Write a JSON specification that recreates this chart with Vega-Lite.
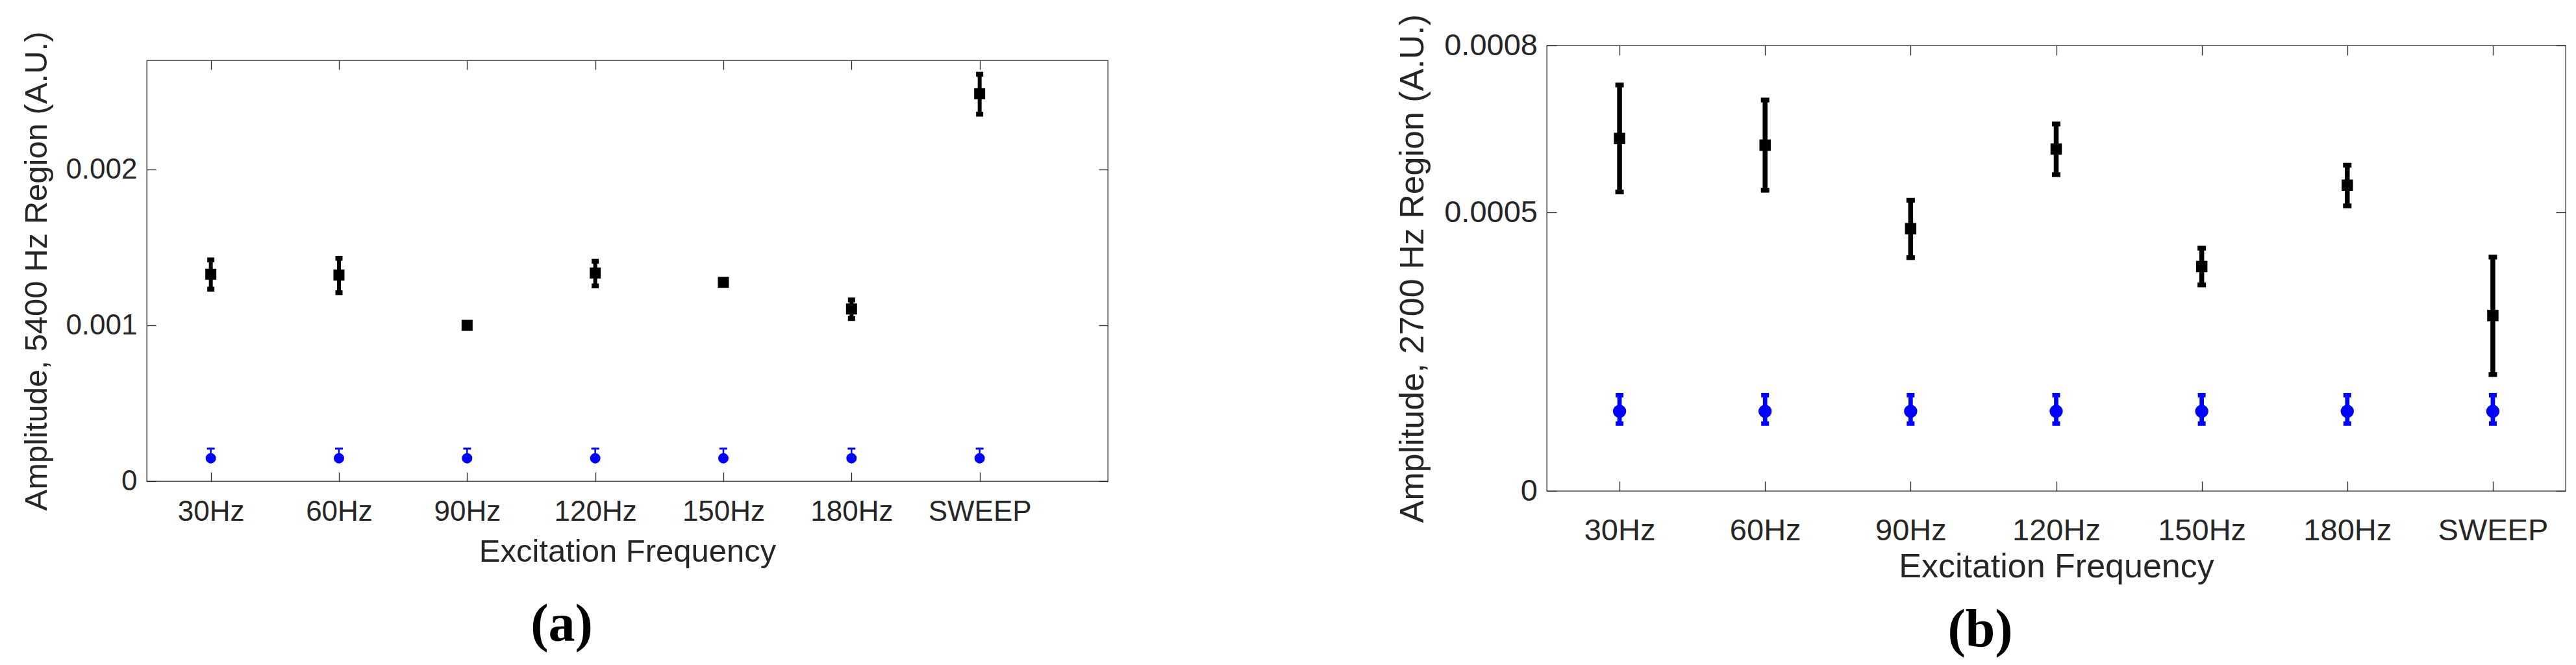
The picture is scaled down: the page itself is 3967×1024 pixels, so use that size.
{
  "$schema": "https://vega.github.io/schema/vega-lite/v6.json",
  "background": "white",
  "padding": {"left": 32, "top": 20, "right": 5, "bottom": 5},
  "spacing": 441,
  "datasets": {
    "left": [
      {"freq": "30Hz", "series": "Sample", "mean": 0.001328, "lo": 0.001232, "hi": 0.00142},
      {"freq": "60Hz", "series": "Sample", "mean": 0.001323, "lo": 0.00121, "hi": 0.00143},
      {"freq": "90Hz", "series": "Sample", "mean": 0.001, "lo": 0.00099, "hi": 0.00101},
      {"freq": "120Hz", "series": "Sample", "mean": 0.001336, "lo": 0.001253, "hi": 0.001411},
      {"freq": "150Hz", "series": "Sample", "mean": 0.001276, "lo": 0.00127, "hi": 0.001282},
      {"freq": "180Hz", "series": "Sample", "mean": 0.001105, "lo": 0.001044, "hi": 0.001163},
      {"freq": "SWEEP", "series": "Sample", "mean": 0.002486, "lo": 0.002355, "hi": 0.002611},
      {"freq": "30Hz", "series": "Reference", "mean": 0.000147, "lo": 0.000135, "hi": 0.000209},
      {"freq": "60Hz", "series": "Reference", "mean": 0.000147, "lo": 0.000135, "hi": 0.000209},
      {"freq": "90Hz", "series": "Reference", "mean": 0.000147, "lo": 0.000135, "hi": 0.000209},
      {"freq": "120Hz", "series": "Reference", "mean": 0.000147, "lo": 0.000135, "hi": 0.000209},
      {"freq": "150Hz", "series": "Reference", "mean": 0.000147, "lo": 0.000135, "hi": 0.000209},
      {"freq": "180Hz", "series": "Reference", "mean": 0.000147, "lo": 0.000135, "hi": 0.000209},
      {"freq": "SWEEP", "series": "Reference", "mean": 0.000147, "lo": 0.000135, "hi": 0.000209}
    ],
    "right": [
      {"freq": "30Hz", "series": "Sample", "mean": 0.000633, "lo": 0.000537, "hi": 0.000729},
      {"freq": "60Hz", "series": "Sample", "mean": 0.000621, "lo": 0.00054, "hi": 0.000702},
      {"freq": "90Hz", "series": "Sample", "mean": 0.000471, "lo": 0.000419, "hi": 0.000522},
      {"freq": "120Hz", "series": "Sample", "mean": 0.000614, "lo": 0.000568, "hi": 0.000659},
      {"freq": "150Hz", "series": "Sample", "mean": 0.000403, "lo": 0.00037, "hi": 0.000436},
      {"freq": "180Hz", "series": "Sample", "mean": 0.000549, "lo": 0.000512, "hi": 0.000585},
      {"freq": "SWEEP", "series": "Sample", "mean": 0.000315, "lo": 0.000209, "hi": 0.00042},
      {"freq": "30Hz", "series": "Reference", "mean": 0.000143, "lo": 0.000121, "hi": 0.000172},
      {"freq": "60Hz", "series": "Reference", "mean": 0.000143, "lo": 0.000121, "hi": 0.000172},
      {"freq": "90Hz", "series": "Reference", "mean": 0.000143, "lo": 0.000121, "hi": 0.000172},
      {"freq": "120Hz", "series": "Reference", "mean": 0.000143, "lo": 0.000121, "hi": 0.000172},
      {"freq": "150Hz", "series": "Reference", "mean": 0.000143, "lo": 0.000121, "hi": 0.000172},
      {"freq": "180Hz", "series": "Reference", "mean": 0.000143, "lo": 0.000121, "hi": 0.000172},
      {"freq": "SWEEP", "series": "Reference", "mean": 0.000143, "lo": 0.000121, "hi": 0.000172}
    ]
  },
  "hconcat": [
    {"bounds": "flush", "spacing": 22, "vconcat": [
    {
      "width": 1480,
      "height": 1,
      "data": {"values": [{"spacer": 1}]},
      "mark": {"type": "point", "opacity": 0},
      "view": {"stroke": null}
    },
    {
      "width": 1480,
      "height": 648,
      "data": {"name": "left"},
      "title": {"text": "(a)", "orient": "bottom", "anchor": "middle", "frame": "group", "dx": -101, "offset": 48, "font": "Liberation Serif", "fontSize": 82, "fontWeight": "bold", "color": "#000000"},
      "encoding": {
        "x": {"field": "freq", "type": "ordinal", "sort": null, "axis": null,
              "scale": {"type": "point", "domain": ["30Hz", "60Hz", "90Hz", "120Hz", "150Hz", "180Hz", "SWEEP"], "padding": 0.75, "align": 0.3333}}
      },
      "layer": [
        {
          "transform": [{"filter": "datum.series === 'Sample'"}],
          "mark": {"type": "rule", "color": "#000000", "strokeWidth": 6},
          "encoding": {
            "x": {"field": "freq", "type": "ordinal", "sort": null,
                  "scale": {"type": "point", "domain": ["30Hz", "60Hz", "90Hz", "120Hz", "150Hz", "180Hz", "SWEEP"], "padding": 0.75, "align": 0.3333},
                  "axis": {"orient": "bottom", "title": "Excitation Frequency", "labelFontSize": 44, "titleFontSize": 49, "labelPadding": 39, "titlePadding": 15, "tickSize": -14, "labelAngle": 0}},
            "y": {"field": "lo", "type": "quantitative", "scale": {"domain": [0, 0.0027], "nice": false, "zero": true},
                  "axis": {"orient": "left", "title": "Amplitude, 5400 Hz Region (A.U.)", "values": [0, 0.001, 0.002], "format": ".3~f", "labelFontSize": 44, "titleFontSize": 49, "labelPadding": 29, "titlePadding": 19, "tickSize": -14}},
            "y2": {"field": "hi"}
          }
        },
        {
          "transform": [{"filter": "datum.series === 'Sample'"}],
          "mark": {"type": "tick", "color": "#000000", "size": 11, "thickness": 7.5, "opacity": 1},
          "encoding": {
            "x": {"field": "freq", "type": "ordinal", "sort": null,
                  "scale": {"type": "point", "domain": ["30Hz", "60Hz", "90Hz", "120Hz", "150Hz", "180Hz", "SWEEP"], "padding": 0.75, "align": 0.3333},
                  "axis": {"orient": "top", "labels": false, "tickSize": -14, "title": null}},
            "y": {"field": "lo", "type": "quantitative", "scale": {"domain": [0, 0.0027], "nice": false, "zero": true},
                  "axis": {"orient": "right", "labels": false, "title": null, "values": [0, 0.001, 0.002], "tickSize": -14}}
          }
        },
        {
          "transform": [{"filter": "datum.series === 'Sample'"}],
          "mark": {"type": "tick", "color": "#000000", "size": 11, "thickness": 7.5, "opacity": 1},
          "encoding": {
            "y": {"field": "hi", "type": "quantitative", "axis": null}
          }
        },
        {
          "transform": [{"filter": "datum.series === 'Sample'"}],
          "mark": {"type": "point", "shape": "square", "filled": true, "size": 289, "color": "#000000", "opacity": 1},
          "encoding": {
            "y": {"field": "mean", "type": "quantitative", "axis": null}
          }
        },
        {
          "transform": [{"filter": "datum.series === 'Reference'"}],
          "mark": {"type": "rule", "color": "#0000FF", "strokeWidth": 2.5},
          "encoding": {
            "y": {"field": "lo", "type": "quantitative", "axis": null},
            "y2": {"field": "hi"}
          }
        },
        {
          "transform": [{"filter": "datum.series === 'Reference'"}],
          "mark": {"type": "tick", "color": "#0000FF", "size": 12, "thickness": 3, "opacity": 1},
          "encoding": {
            "y": {"field": "hi", "type": "quantitative", "axis": null}
          }
        },
        {
          "transform": [{"filter": "datum.series === 'Reference'"}],
          "mark": {"type": "point", "shape": "circle", "filled": true, "size": 254, "color": "#0000FF", "opacity": 1},
          "encoding": {
            "y": {"field": "mean", "type": "quantitative", "axis": null}
          }
        }
      ],
      "resolve": {"axis": {"x": "independent", "y": "independent"}}
    }
    ]},
    {
      "width": 1569,
      "height": 686,
      "data": {"name": "right"},
      "title": {"text": "(b)", "orient": "bottom", "anchor": "middle", "frame": "group", "dx": -117, "offset": 32, "font": "Liberation Serif", "fontSize": 82, "fontWeight": "bold", "color": "#000000"},
      "encoding": {
        "x": {"field": "freq", "type": "ordinal", "sort": null, "axis": null,
              "scale": {"type": "point", "domain": ["30Hz", "60Hz", "90Hz", "120Hz", "150Hz", "180Hz", "SWEEP"], "padding": 0.5, "align": 0.5}}
      },
      "layer": [
        {
          "transform": [{"filter": "datum.series === 'Sample'"}],
          "mark": {"type": "rule", "color": "#000000", "strokeWidth": 7.5},
          "encoding": {
            "x": {"field": "freq", "type": "ordinal", "sort": null,
                  "scale": {"type": "point", "domain": ["30Hz", "60Hz", "90Hz", "120Hz", "150Hz", "180Hz", "SWEEP"], "padding": 0.5, "align": 0.5},
                  "axis": {"orient": "bottom", "title": "Excitation Frequency", "labelFontSize": 47, "titleFontSize": 52, "labelPadding": 53, "titlePadding": 7, "tickSize": -15, "labelAngle": 0}},
            "y": {"field": "lo", "type": "quantitative", "scale": {"domain": [0, 0.0008], "nice": false, "zero": true},
                  "axis": {"orient": "left", "title": "Amplitude, 2700 Hz Region (A.U.)", "values": [0, 0.0005, 0.0008], "format": ".4~f", "labelFontSize": 47, "titleFontSize": 52, "labelPadding": 29.5, "titlePadding": 21, "tickSize": -15}},
            "y2": {"field": "hi"}
          }
        },
        {
          "transform": [{"filter": "datum.series === 'Sample'"}],
          "mark": {"type": "tick", "color": "#000000", "size": 13, "thickness": 7.3, "opacity": 1},
          "encoding": {
            "x": {"field": "freq", "type": "ordinal", "sort": null,
                  "scale": {"type": "point", "domain": ["30Hz", "60Hz", "90Hz", "120Hz", "150Hz", "180Hz", "SWEEP"], "padding": 0.5, "align": 0.5},
                  "axis": {"orient": "top", "labels": false, "tickSize": -15, "title": null}},
            "y": {"field": "lo", "type": "quantitative", "scale": {"domain": [0, 0.0008], "nice": false, "zero": true},
                  "axis": {"orient": "right", "labels": false, "title": null, "values": [0, 0.0005, 0.0008], "tickSize": -15}}
          }
        },
        {
          "transform": [{"filter": "datum.series === 'Sample'"}],
          "mark": {"type": "tick", "color": "#000000", "size": 13, "thickness": 7.3, "opacity": 1},
          "encoding": {
            "y": {"field": "hi", "type": "quantitative", "axis": null}
          }
        },
        {
          "transform": [{"filter": "datum.series === 'Sample'"}],
          "mark": {"type": "point", "shape": "square", "filled": true, "size": 306, "color": "#000000", "opacity": 1},
          "encoding": {
            "y": {"field": "mean", "type": "quantitative", "axis": null}
          }
        },
        {
          "transform": [{"filter": "datum.series === 'Reference'"}],
          "mark": {"type": "rule", "color": "#0000FF", "strokeWidth": 6.7},
          "encoding": {
            "y": {"field": "lo", "type": "quantitative", "axis": null},
            "y2": {"field": "hi"}
          }
        },
        {
          "transform": [{"filter": "datum.series === 'Reference'"}],
          "mark": {"type": "tick", "color": "#0000FF", "size": 12, "thickness": 7, "opacity": 1},
          "encoding": {
            "y": {"field": "lo", "type": "quantitative", "axis": null}
          }
        },
        {
          "transform": [{"filter": "datum.series === 'Reference'"}],
          "mark": {"type": "tick", "color": "#0000FF", "size": 12, "thickness": 7, "opacity": 1},
          "encoding": {
            "y": {"field": "hi", "type": "quantitative", "axis": null}
          }
        },
        {
          "transform": [{"filter": "datum.series === 'Reference'"}],
          "mark": {"type": "point", "shape": "circle", "filled": true, "size": 415, "color": "#0000FF", "opacity": 1},
          "encoding": {
            "y": {"field": "mean", "type": "quantitative", "axis": null}
          }
        }
      ],
      "resolve": {"axis": {"x": "independent", "y": "independent"}}
    }
  ],
  "config": {
    "view": {"stroke": "#262626", "strokeWidth": 1.3},
    "axis": {
      "grid": false,
      "domain": false,
      "labelFont": "Liberation Sans",
      "titleFont": "Liberation Sans",
      "labelColor": "#262626",
      "titleColor": "#262626",
      "titleFontWeight": "normal",
      "tickColor": "#262626",
      "tickWidth": 1.3,
      "labelOverlap": false,
      "labelFlush": false
    }
  }
}
